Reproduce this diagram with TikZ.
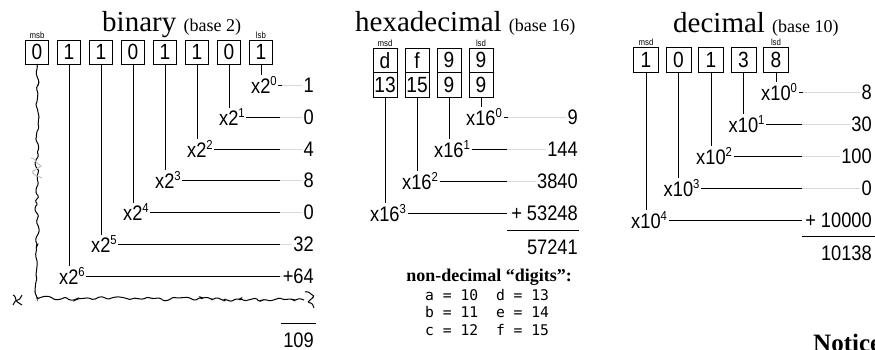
\documentclass[tikz,border=0pt]{standalone}
\usepackage{fontspec}
\setmainfont{Liberation Serif}
\newfontfamily\narrowsans[FakeStretch=0.87]{Liberation Sans}
\newfontfamily\codefont{DejaVu Sans Mono}
\usetikzlibrary{positioning}
\usetikzlibrary{decorations.pathmorphing}
\newcommand{\expo}[1]{\textsuperscript{\fontsize{13}{13}\selectfont #1}}
\newcommand{\basesize}{\fontsize{18}{18}\selectfont}

\begin{document}
\begin{tikzpicture}[
                x=1pt, y=-1pt,
                digitbox/.style={rectangle, draw, line width=0.9pt, outer sep=0pt,
                    minimum width=23pt, minimum height=24pt, inner sep=0pt,
                    font=\narrowsans\fontsize{22}{22}\selectfont},
                hexbox/.style={digitbox, minimum width=24pt, minimum height=24.5pt},
                decbox/.style={digitbox, minimum width=25pt, minimum height=25pt},
                sidetag/.style={inner sep=1pt, font=\narrowsans\fontsize{9}{9}\selectfont},
                power/.style={anchor=west, inner sep=1pt, font=\narrowsans\fontsize{21}{21}\selectfont},
                result/.style={anchor=east, inner sep=1pt, font=\narrowsans\fontsize{21}{21}\selectfont},
                headline/.style={anchor=base west, inner sep=0pt, font=\fontsize{29}{30}\selectfont},
                blackline/.style={line width=0.9pt},
                greyline/.style={line width=0.9pt, draw=gray!30},
                scrawl/.style={line width=1pt, rounded corners=1.5pt, decorate,
                    decoration={random steps, segment length=4pt, amplitude=2.2pt}},
            ]
            \pgfmathsetseed{7}
            \useasboundingbox (0,0) rectangle (875,350);

            % ---------------- binary ----------------
            \node[headline] (tbin) at (102,32) {binary {\basesize (base 2)}};
            \node[digitbox] (b1) at (37,52) {0};
            \node[digitbox, right=9pt of b1] (b2) {1};
            \node[digitbox, right=9pt of b2] (b3) {1};
            \node[digitbox, right=9pt of b3] (b4) {0};
            \node[digitbox, right=9pt of b4] (b5) {1};
            \node[digitbox, right=9pt of b5] (b6) {1};
            \node[digitbox, right=9pt of b6] (b7) {0};
            \node[digitbox, right=9pt of b7] (b8) {1};
            \node[sidetag, above=0pt of b1] (msb) {msb};
            \node[sidetag, above=0pt of b8] (lsb) {lsb};

            \node[power] (l0) at (250,85) {x2\expo{0}};
            \node[power] (l1) at (218,117) {x2\expo{1}};
            \node[power] (l2) at (186,149) {x2\expo{2}};
            \node[power] (l3) at (154,180) {x2\expo{3}};
            \node[power] (l4) at (122,212) {x2\expo{4}};
            \node[power] (l5) at (90,244) {x2\expo{5}};
            \node[power] (l6) at (58,276) {x2\expo{6}};

            \node[result] (v0) at (315,85) {1};
            \node[result] (v1) at (315,117) {0};
            \node[result] (v2) at (315,149) {4};
            \node[result] (v3) at (315,180) {8};
            \node[result] (v4) at (315,212) {0};
            \node[result] (v5) at (315,244) {32};
            \node[result] (v6) at (315,276) {+64};
            \node[result] (vsum) at (315,340) {109};
            \coordinate (bx) at (280,0);

            % Drops
            \draw[blackline] (b8.south) -- (b8.south |- l0.north);
            \draw[blackline] (b7.south) -- (b7.south |- l1.north);
            \draw[blackline] (b6.south) -- (b6.south |- l2.north);
            \draw[blackline] (b5.south) -- (b5.south |- l3.north);
            \draw[blackline] (b4.south) -- (b4.south |- l4.north);
            \draw[blackline] (b3.south) -- (b3.south |- l5.north);
            \draw[blackline] (b2.south) -- (b2.south |- l6.north);

            % Rows
            \draw[blackline] (l0.east) -- ++(4,0);
            \draw[greyline] (l0.east) ++(4,0) -- (v0.west);
            \draw[blackline] (l1.east) -- (l1 -| bx);
            \draw[greyline] (l1 -| bx) -- (v1.west);
            \draw[blackline] (l2.east) -- (l2 -| bx);
            \draw[greyline] (l2 -| bx) -- (v2.west);
            \draw[blackline] (l3.east) -- (l3 -| bx);
            \draw[greyline] (l3 -| bx) -- (v3.west);
            \draw[blackline] (l4.east) -- (l4 -| bx);
            \draw[greyline] (l4 -| bx) -- (v4.west);
            \draw[blackline] (l5.east) -- (l5 -| bx);
            \draw[greyline] (l5 -| bx) -- (v5.west);
            \draw[blackline] (l6.east) -- (l6 -| bx);
            \draw[greyline] (l6 -| bx) -- (v6.west);
            \draw[blackline] (281,323) -- (316,323);

            % Crossed-out msb
            \draw[scrawl] (b1.south) -- (37,298) -- (304,300);
            \draw[scrawl] (13,295) -- (22,305) (13,305) -- (22,295);
            \draw[scrawl] (305,292) -- (314,296) -- (308,302) -- (314,308);
            \draw[scrawl, draw=gray!50] (31,158) -- (41,166) -- (32,172) -- (42,178);

            % ---------------- hexadecimal ----------------
            \node[headline] (thex) at (355,32) {hexadecimal {\basesize (base 16)}};
            \node[hexbox] (hd1) at (385,60.25) {d};
            \node[hexbox, right=8pt of hd1] (hd2) {f};
            \node[hexbox, right=8pt of hd2] (hd3) {9};
            \node[hexbox, right=8pt of hd3] (hd4) {9};
            \node[hexbox, below=0pt of hd1] (hn1) {13};
            \node[hexbox, below=0pt of hd2] (hn2) {15};
            \node[hexbox, below=0pt of hd3] (hn3) {9};
            \node[hexbox, below=0pt of hd4] (hn4) {9};
            \node[sidetag, above=0pt of hd1] (msdh) {msd};
            \node[sidetag, above=0pt of hd4] (lsdh) {lsd};

            \node[power] (h0) at (465,117) {x16\expo{0}};
            \node[power] (h1) at (433,149) {x16\expo{1}};
            \node[power] (h2) at (401,181) {x16\expo{2}};
            \node[power] (h3) at (369,213) {x16\expo{3}};

            \node[result] (w0) at (579,117) {9};
            \node[result] (w1) at (579,149) {144};
            \node[result] (w2) at (579,181) {3840};
            \node[result] (w3) at (579,213) {+ 53248};
            \node[result] (wsum) at (579,247) {57241};
            \coordinate (hx) at (507,0);

            \draw[blackline] (hn4.south) -- (hn4.south |- h0.north);
            \draw[blackline] (hn3.south) -- (hn3.south |- h1.north);
            \draw[blackline] (hn2.south) -- (hn2.south |- h2.north);
            \draw[blackline] (hn1.south) -- (hn1.south |- h3.north);

            \draw[blackline] (h0.east) -- ++(4,0);
            \draw[greyline] (h0.east) ++(4,0) -- (w0.west);
            \draw[blackline] (h1.east) -- (h1 -| hx);
            \draw[greyline] (h1 -| hx) -- (w1.west);
            \draw[blackline] (h2.east) -- (h2 -| hx);
            \draw[greyline] (h2 -| hx) -- (w2.west);
            \draw[blackline] (h3.east) -- (h3 -| hx);
            \draw[blackline] (507,230) -- (579,230);

            % Digit table
            \node[font=\bfseries\fontsize{18}{18}\selectfont] (digtitle) at (489,277) {non-decimal ``digits'':};
            \node[anchor=north west, inner sep=0pt, align=left,
                font=\codefont\fontsize{14.7}{17.5}\selectfont] (digmap) at (425,289)
                {a = 10\ \ d = 13\\ b = 11\ \ e = 14\\ c = 12\ \ f = 15};

            % ---------------- decimal ----------------
            \node[headline] (tdec) at (673,33) {decimal {\basesize (base 10)}};
            \node[decbox] (c1) at (646,59.5) {1};
            \node[decbox, right=7.5pt of c1] (c2) {0};
            \node[decbox, right=7.5pt of c2] (c3) {1};
            \node[decbox, right=7.5pt of c3] (c4) {3};
            \node[decbox, right=7.5pt of c4] (c5) {8};
            \node[sidetag, above=0pt of c1] (msdd) {msd};
            \node[sidetag, above=0pt of c5] (lsdd) {lsd};

            \node[power] (d0) at (760,92) {x10\expo{0}};
            \node[power] (d1) at (727.5,124) {x10\expo{1}};
            \node[power] (d2) at (695,156) {x10\expo{2}};
            \node[power] (d3) at (662.5,188) {x10\expo{3}};
            \node[power] (d4) at (630,220) {x10\expo{4}};

            \node[result] (u0) at (873,92) {8};
            \node[result] (u1) at (873,124) {30};
            \node[result] (u2) at (873,156) {100};
            \node[result] (u3) at (873,188) {0};
            \node[result] (u4) at (873,220) {+ 10000};
            \node[result] (usum) at (873,253) {10138};
            \coordinate (dx) at (802,0);

            \draw[blackline] (c5.south) -- (c5.south |- d0.north);
            \draw[blackline] (c4.south) -- (c4.south |- d1.north);
            \draw[blackline] (c3.south) -- (c3.south |- d2.north);
            \draw[blackline] (c2.south) -- (c2.south |- d3.north);
            \draw[blackline] (c1.south) -- (c1.south |- d4.north);

            \draw[blackline] (d0.east) -- ++(4,0);
            \draw[greyline] (d0.east) ++(4,0) -- (u0.west);
            \draw[blackline] (d1.east) -- (d1 -| dx);
            \draw[greyline] (d1 -| dx) -- (u1.west);
            \draw[blackline] (d2.east) -- (d2 -| dx);
            \draw[greyline] (d2 -| dx) -- (u2.west);
            \draw[blackline] (d3.east) -- (d3 -| dx);
            \draw[greyline] (d3 -| dx) -- (u3.west);
            \draw[blackline] (d4.east) -- (d4 -| dx);
            \draw[blackline] (802,236) -- (875,236);

            \node[anchor=base west, inner sep=0pt, font=\bfseries\fontsize{25}{25}\selectfont] (notice) at (813,351) {Notice};

            \end{tikzpicture}
\end{document}
